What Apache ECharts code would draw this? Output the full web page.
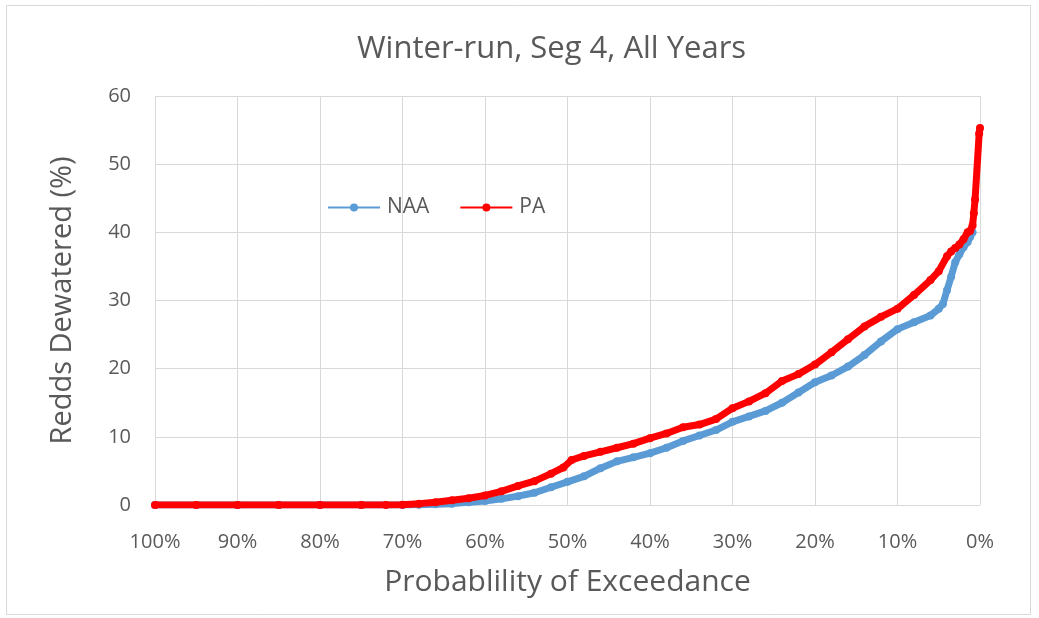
<!DOCTYPE html>
<html>
<head>
<meta charset="utf-8">
<script src="https://cdn.jsdelivr.net/npm/echarts@6/dist/echarts.min.js"></script>
<style>
html,body{margin:0;padding:0;background:#fff;}
#chart{width:1039px;height:618px;}
</style>
</head>
<body>
<div id="chart"></div>
<script>
// Probability of exceedance (%) and Redds Dewatered (%)
const naaExceed = [100, 95, 90, 85, 80, 75, 70, 68, 66, 64, 62, 60, 58, 56, 54, 52, 50, 48, 46, 44, 42, 40, 38, 36, 34, 32, 30, 28, 26, 24, 22, 20, 18, 16, 14, 12, 10, 8, 6, 5, 4.5, 4, 3.5, 3, 2.5, 2, 1.5, 1.2, 0.9];
const naaValues = [0, 0, 0, 0, 0, 0, 0, 0.02, 0.1, 0.2, 0.4, 0.6, 0.9, 1.3, 1.8, 2.6, 3.4, 4.2, 5.4, 6.4, 7.0, 7.6, 8.4, 9.4, 10.2, 11.0, 12.2, 13.0, 13.8, 15.0, 16.5, 18.0, 19.0, 20.3, 22.0, 24.0, 25.8, 26.8, 27.8, 28.8, 29.5, 31.5, 33.5, 35.6, 36.8, 37.8, 38.6, 39.3, 40.0];

const paExceed = [100, 95, 90, 85, 80, 75, 72, 70, 68, 66, 64, 62, 60, 58, 56, 54, 52, 50.5, 49.5, 48, 46, 44, 42, 40, 38, 36, 34, 32, 30, 28, 26, 24, 22, 20, 18, 16, 14, 12, 10, 8, 6, 5, 4, 3.5, 3, 2.5, 2, 1.5, 1.2, 0.9, 0.75, 0.6, 0.1, 0];
const paValues = [0, 0, 0, 0, 0, 0, 0, 0.05, 0.2, 0.4, 0.7, 1.0, 1.4, 2.0, 2.8, 3.5, 4.6, 5.5, 6.6, 7.2, 7.8, 8.4, 9.0, 9.8, 10.5, 11.4, 11.8, 12.6, 14.2, 15.2, 16.4, 18.2, 19.2, 20.6, 22.4, 24.3, 26.2, 27.6, 28.8, 30.8, 33.0, 34.3, 36.5, 37.2, 37.7, 38.2, 39.0, 40.0, 40.2, 41.0, 42.8, 44.8, 54.5, 55.3];

const seriesNames = ['NAA', 'PA'];
const titleText = 'Winter-run, Seg 4, All Years';
const xAxisName = 'Probablility of Exceedance';
const yAxisName = 'Redds Dewatered (%)';

const FONT = '"Open Sans", "Liberation Sans", sans-serif';
const TXT = '#595959';

function pairs(xs, ys) { return xs.map((x, i) => [x, ys[i]]); }

const chart = echarts.init(document.getElementById('chart'), null, {renderer: 'canvas'});
chart.setOption({
  backgroundColor: '#fff',
  animation: false,
  title: {
    text: titleText, left: 352, top: 29,
    textStyle: {fontFamily: FONT, fontSize: 31, fontWeight: 'normal', color: TXT}
  },
  legend: {
    data: seriesNames, left: 322, top: 192,
    itemWidth: 52, itemHeight: 10, itemGap: 30,
    textStyle: {fontFamily: FONT, fontSize: 21, color: TXT, padding: [0, 0, 0, 2]}
  },
  graphic: [{
    type: 'rect', shape: {x: 6.5, y: 5.5, width: 1024, height: 609},
    style: {fill: 'none', stroke: '#d9d9d9', lineWidth: 1}, silent: true, z: -10
  }],
  grid: {left: 155, right: 59, top: 96, bottom: 113, containLabel: false},
  xAxis: {
    type: 'value', min: 0, max: 100, interval: 10, inverse: true,
    name: xAxisName, nameLocation: 'middle', nameGap: 62,
    nameTextStyle: {fontFamily: FONT, fontSize: 30, color: TXT},
    axisLine: {show: false}, axisTick: {show: false},
    axisLabel: {formatter: '{value}%', fontFamily: FONT, fontSize: 20, color: TXT, margin: 27},
    splitLine: {show: true, lineStyle: {color: '#d9d9d9', width: 1}}
  },
  yAxis: {
    type: 'value', min: 0, max: 60, interval: 10,
    name: yAxisName, nameLocation: 'middle', nameGap: 78, nameRotate: 90,
    nameTextStyle: {fontFamily: FONT, fontSize: 29, color: TXT},
    axisLine: {show: false}, axisTick: {show: false},
    axisLabel: {fontFamily: FONT, fontSize: 20, color: TXT, margin: 24},
    splitLine: {show: true, lineStyle: {color: '#d9d9d9', width: 1}}
  },
  series: [
    {
      name: seriesNames[0], type: 'line', data: pairs(naaExceed, naaValues),
      symbol: 'circle', symbolSize: 8, showAllSymbol: true,
      lineStyle: {color: '#5b9bd5', width: 7},
      itemStyle: {color: '#5b9bd5'}, z: 2
    },
    {
      name: seriesNames[1], type: 'line', data: pairs(paExceed, paValues),
      symbol: 'circle', symbolSize: 8, showAllSymbol: true,
      lineStyle: {color: '#ff0000', width: 7},
      itemStyle: {color: '#ff0000'}, z: 3
    }
  ]
});
</script>
</body>
</html>
